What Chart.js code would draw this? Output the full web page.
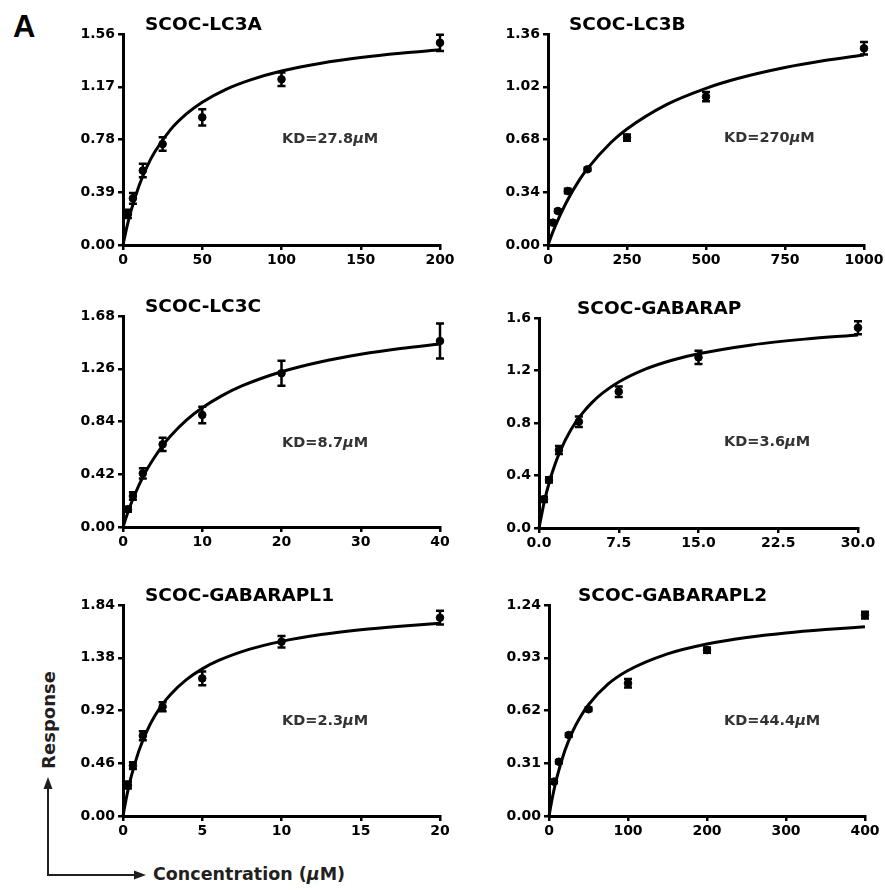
<!DOCTYPE html>
<html>
<head>
<meta charset="utf-8">
<script src="https://cdn.jsdelivr.net/npm/chart.js@4.4.1/dist/chart.umd.min.js"></script>
<style>
  body { margin: 0; background: #fff; }
  #wrap { position: relative; width: 885px; height: 890px; font-family: "DejaVu Sans", sans-serif; }
  canvas { position: absolute; }
  .lbl { position: absolute; font-weight: bold; color: #231f20; white-space: nowrap; }
</style>
</head>
<body>
<div id="wrap">
  <div class="lbl" style="left:13px; top:11px; font-size:31px; line-height:1; color:#000; font-family:'Liberation Sans', Arial, sans-serif;">A</div>
  <div class="lbl" style="left:48px; top:720px; font-size:18px; transform: translate(-50%, -50%) rotate(-90deg);">Response</div>
  <div class="lbl" style="left:153px; top:864px; font-size:17.5px;">Concentration (<i>μ</i>M)</div>
  <svg style="position:absolute; left:0; top:0;" width="885" height="890">
    <path d="M48,786 L48,875 L137,875" fill="none" stroke="#231f20" stroke-width="2"/>
    <path d="M48,777 L43.5,789 L52.5,789 Z" fill="#231f20"/>
    <path d="M146,875 L134,870.5 L134,879.5 Z" fill="#231f20"/>
  </svg>
</div>
<script>
"use strict"

// SCOC-LC3A
const lc3aConc = [3.125, 6.25, 12.5, 25, 50, 100, 200];
const lc3aMean = [0.23, 0.345, 0.55, 0.746, 0.944, 1.225, 1.495];
const lc3aErr  = [0.03, 0.04, 0.05, 0.05, 0.06, 0.05, 0.06];
const lc3aFitX = [0, 2.5, 5, 10, 15, 20, 30, 40, 50, 65, 80, 100, 125, 150, 175, 200];
const lc3aFitY = [0, 0.136, 0.25, 0.435, 0.576, 0.687, 0.853, 0.969, 1.056, 1.151, 1.219, 1.286, 1.344, 1.386, 1.418, 1.443];
const lc3aXTicks = [0, 50, 100, 150, 200];
const lc3aYTicks = [0, 0.39, 0.78, 1.17, 1.56];

// SCOC-LC3B
const lc3bConc = [15.6, 31.25, 62.5, 125, 250, 500, 1000];
const lc3bMean = [0.144, 0.219, 0.348, 0.488, 0.692, 0.956, 1.268];
const lc3bErr  = [0.01, 0.01, 0.015, 0.01, 0.02, 0.03, 0.04];
const lc3bFitX = [0, 15, 31.25, 62.5, 100, 125, 200, 250, 375, 500, 600, 750, 875, 1000];
const lc3bFitY = [0, 0.083, 0.161, 0.292, 0.421, 0.492, 0.662, 0.748, 0.905, 1.01, 1.073, 1.144, 1.189, 1.225];
const lc3bXTicks = [0, 250, 500, 750, 1000];
const lc3bYTicks = [0, 0.34, 0.68, 1.02, 1.36];

// SCOC-LC3C
const lc3cConc = [0.625, 1.25, 2.5, 5, 10, 20, 40];
const lc3cMean = [0.141, 0.247, 0.427, 0.658, 0.892, 1.224, 1.481];
const lc3cErr  = [0.02, 0.03, 0.04, 0.053, 0.066, 0.1, 0.14];
const lc3cFitX = [0, 0.5, 1, 2, 3, 4, 5, 6, 8, 10, 12.5, 15, 20, 25, 30, 35, 40];
const lc3cFitY = [0, 0.096, 0.183, 0.332, 0.455, 0.557, 0.648, 0.724, 0.85, 0.949, 1.046, 1.123, 1.236, 1.316, 1.375, 1.421, 1.457];
const lc3cXTicks = [0, 10, 20, 30, 40];
const lc3cYTicks = [0, 0.42, 0.84, 1.26, 1.68];

// SCOC-GABARAP
const gabarapConc = [0.469, 0.9375, 1.875, 3.75, 7.5, 15, 30];
const gabarapMean = [0.219, 0.366, 0.594, 0.81, 1.039, 1.3, 1.526];
const gabarapErr  = [0.02, 0.02, 0.03, 0.04, 0.04, 0.05, 0.05];
const gabarapFitX = [0, 0.5, 1, 1.5, 2, 3, 4, 5, 6, 7.5, 10, 12.5, 15, 20, 25, 30];
const gabarapFitY = [0, 0.201, 0.358, 0.484, 0.588, 0.748, 0.866, 0.957, 1.029, 1.112, 1.21, 1.278, 1.327, 1.395, 1.439, 1.47];
const gabarapXTicks = [0, 7.5, 15, 22.5, 30];
const gabarapYTicks = [0, 0.4, 0.8, 1.2, 1.6];

// SCOC-GABARAPL1
const gabarapl1Conc = [0.3125, 0.625, 1.25, 2.5, 5, 10, 20];
const gabarapl1Mean = [0.27, 0.439, 0.7, 0.953, 1.2, 1.52, 1.729];
const gabarapl1Err  = [0.03, 0.03, 0.04, 0.04, 0.06, 0.05, 0.06];
const gabarapl1FitX = [0, 0.25, 0.5, 1, 1.5, 2, 2.5, 3, 4, 5, 6, 8, 10, 12.5, 15, 17.5, 20];
const gabarapl1FitY = [0, 0.184, 0.334, 0.568, 0.739, 0.871, 0.976, 1.06, 1.189, 1.283, 1.354, 1.455, 1.523, 1.582, 1.624, 1.655, 1.68];
const gabarapl1XTicks = [0, 5, 10, 15, 20];
const gabarapl1YTicks = [0, 0.46, 0.92, 1.38, 1.84];

// SCOC-GABARAPL2
const gabarapl2Conc = [6.25, 12.5, 25, 50, 100, 200, 400];
const gabarapl2Mean = [0.202, 0.319, 0.476, 0.627, 0.78, 0.975, 1.181];
const gabarapl2Err  = [0.01, 0.01, 0.01, 0.01, 0.025, 0.015, 0.02];
const gabarapl2FitX = [0, 5, 10, 20, 30, 40, 50, 75, 100, 150, 200, 250, 300, 350, 400];
const gabarapl2FitY = [0, 0.125, 0.227, 0.383, 0.498, 0.585, 0.654, 0.776, 0.855, 0.953, 1.011, 1.049, 1.076, 1.096, 1.112];
const gabarapl2XTicks = [0, 100, 200, 300, 400];
const gabarapl2YTicks = [0, 0.31, 0.62, 0.93, 1.24];

const panels = [
    { id: "p1", title: "SCOC-LC3A", kd: "27.8", conc: lc3aConc, mean: lc3aMean, err: lc3aErr, fitX: lc3aFitX, fitY: lc3aFitY, xTicks: lc3aXTicks, yTicks: lc3aYTicks, xDec: 0, yDec: 2,
      box: [123, 34, 440, 245], titleDx: 22, kdPos: [159, 105] },
    { id: "p2", title: "SCOC-LC3B", kd: "270", conc: lc3bConc, mean: lc3bMean, err: lc3bErr, fitX: lc3bFitX, fitY: lc3bFitY, xTicks: lc3bXTicks, yTicks: lc3bYTicks, xDec: 0, yDec: 2,
      box: [548, 34, 864, 245], titleDx: 21, kdPos: [176, 104] },
    { id: "p3", title: "SCOC-LC3C", kd: "8.7", conc: lc3cConc, mean: lc3cMean, err: lc3cErr, fitX: lc3cFitX, fitY: lc3cFitY, xTicks: lc3cXTicks, yTicks: lc3cYTicks, xDec: 0, yDec: 2,
      box: [123, 316, 440, 527], titleDx: 22, kdPos: [159, 127] },
    { id: "p4", title: "SCOC-GABARAP", kd: "3.6", conc: gabarapConc, mean: gabarapMean, err: gabarapErr, fitX: gabarapFitX, fitY: gabarapFitY, xTicks: gabarapXTicks, yTicks: gabarapYTicks, xDec: 1, yDec: 1,
      box: [539, 318, 858, 528], titleDx: 38, kdPos: [185, 124] },
    { id: "p5", title: "SCOC-GABARAPL1", kd: "2.3", conc: gabarapl1Conc, mean: gabarapl1Mean, err: gabarapl1Err, fitX: gabarapl1FitX, fitY: gabarapl1FitY, xTicks: gabarapl1XTicks, yTicks: gabarapl1YTicks, xDec: 0, yDec: 2,
      box: [123, 605, 440, 816], titleDx: 22, kdPos: [159, 116] },
    { id: "p6", title: "SCOC-GABARAPL2", kd: "44.4", conc: gabarapl2Conc, mean: gabarapl2Mean, err: gabarapl2Err, fitX: gabarapl2FitX, fitY: gabarapl2FitY, xTicks: gabarapl2XTicks, yTicks: gabarapl2YTicks, xDec: 0, yDec: 2,
      box: [549, 605, 865, 816], titleDx: 29, kdPos: [175, 116] }
];

const FONT = "'DejaVu Sans', sans-serif";
const PAD_L = 75, PAD_T = 40, PAD_R = 28, PAD_B = 35;

// error bars, title and KD label
const extrasPlugin = {
    id: "extras",
    afterDatasetsDraw(chart, args, opts) {
        let ctx = chart.ctx;
        let xs = chart.scales.x, ys = chart.scales.y;
        let p = opts.panel;
        ctx.save();
        ctx.strokeStyle = "#000";
        ctx.lineWidth = 2.5;
        p.conc.forEach((c, i) => {
            let px = xs.getPixelForValue(c);
            let top = ys.getPixelForValue(p.mean[i] + p.err[i]);
            let bot = ys.getPixelForValue(p.mean[i] - p.err[i]);
            ctx.beginPath();
            ctx.moveTo(px, top); ctx.lineTo(px, bot);
            ctx.moveTo(px - 4, top); ctx.lineTo(px + 4, top);
            ctx.moveTo(px - 4, bot); ctx.lineTo(px + 4, bot);
            ctx.stroke();
        });
        let area = chart.chartArea;
        ctx.fillStyle = "#000";
        ctx.font = "bold 18.5px " + FONT;
        ctx.textBaseline = "middle";
        ctx.textAlign = "left";
        ctx.fillText(p.title, area.left + p.titleDx, area.top - 9);

        ctx.fillStyle = "#333";
        ctx.font = "bold 14.5px " + FONT;
        let kx = area.left + p.kdPos[0], ky = area.top + p.kdPos[1];
        let s1 = "KD=" + p.kd;
        ctx.fillText(s1, kx, ky);
        kx += ctx.measureText(s1).width;
        ctx.font = "italic bold 14.5px " + FONT;
        ctx.fillText("μ", kx, ky);
        kx += ctx.measureText("μ").width;
        ctx.font = "bold 14.5px " + FONT;
        ctx.fillText("M", kx, ky);
        ctx.restore();
    }
};

panels.forEach(p => {
    let [l, t, r, b] = p.box;
    let canvas = document.createElement("canvas");
    canvas.id = p.id;
    canvas.width = (r - l) + PAD_L + PAD_R;
    canvas.height = (b - t) + PAD_T + PAD_B;
    canvas.style.left = (l - PAD_L) + "px";
    canvas.style.top = (t - PAD_T) + "px";
    document.getElementById("wrap").appendChild(canvas);

    let ctx = canvas.getContext("2d");
    let axisCommon = {
        type: "linear",
        border: { display: true, color: "#000", width: 3 },
        grid: { display: true, drawOnChartArea: false, drawTicks: true, tickLength: 5, lineWidth: 2.5, color: "#000" }
    };

    new Chart(ctx, {
        type: "scatter",
        data: {
            datasets: [{
                type: "line",
                data: p.fitX.map((x, i) => ({ x: x, y: p.fitY[i] })),
                borderColor: "#000",
                borderWidth: 3,
                pointRadius: 0,
                fill: false,
                cubicInterpolationMode: "monotone",
                clip: false
            }, {
                type: "scatter",
                data: p.conc.map((x, i) => ({ x: x, y: p.mean[i] })),
                backgroundColor: "#000",
                borderColor: "#000",
                pointRadius: 3.8,
                clip: false
            }]
        },
        options: {
            responsive: false,
            animation: false,
            devicePixelRatio: 1,
            layout: { padding: { left: 0, top: PAD_T, right: PAD_R, bottom: 0 } },
            plugins: {
                legend: { display: false },
                tooltip: { enabled: false },
                extras: { panel: p }
            },
            scales: {
                x: Object.assign({}, axisCommon, {
                    min: p.xTicks[0],
                    max: p.xTicks[p.xTicks.length - 1],
                    afterBuildTicks: scale => { scale.ticks = p.xTicks.map(v => ({ value: v })); },
                    afterFit: scale => { scale.height = PAD_B; },
                    ticks: {
                        color: "#000",
                        padding: 2,
                        maxRotation: 0,
                        font: { family: FONT, size: 14, weight: "bold" },
                        callback: v => v.toFixed(p.xDec)
                    }
                }),
                y: Object.assign({}, axisCommon, {
                    min: p.yTicks[0],
                    max: p.yTicks[p.yTicks.length - 1],
                    afterBuildTicks: scale => { scale.ticks = p.yTicks.map(v => ({ value: v })); },
                    afterFit: scale => { scale.width = PAD_L; },
                    ticks: {
                        color: "#000",
                        padding: 3,
                        font: { family: FONT, size: 14, weight: "bold" },
                        callback: v => v.toFixed(p.yDec)
                    }
                })
            }
        },
        plugins: [extrasPlugin]
    });
});
</script>
</body>
</html>
